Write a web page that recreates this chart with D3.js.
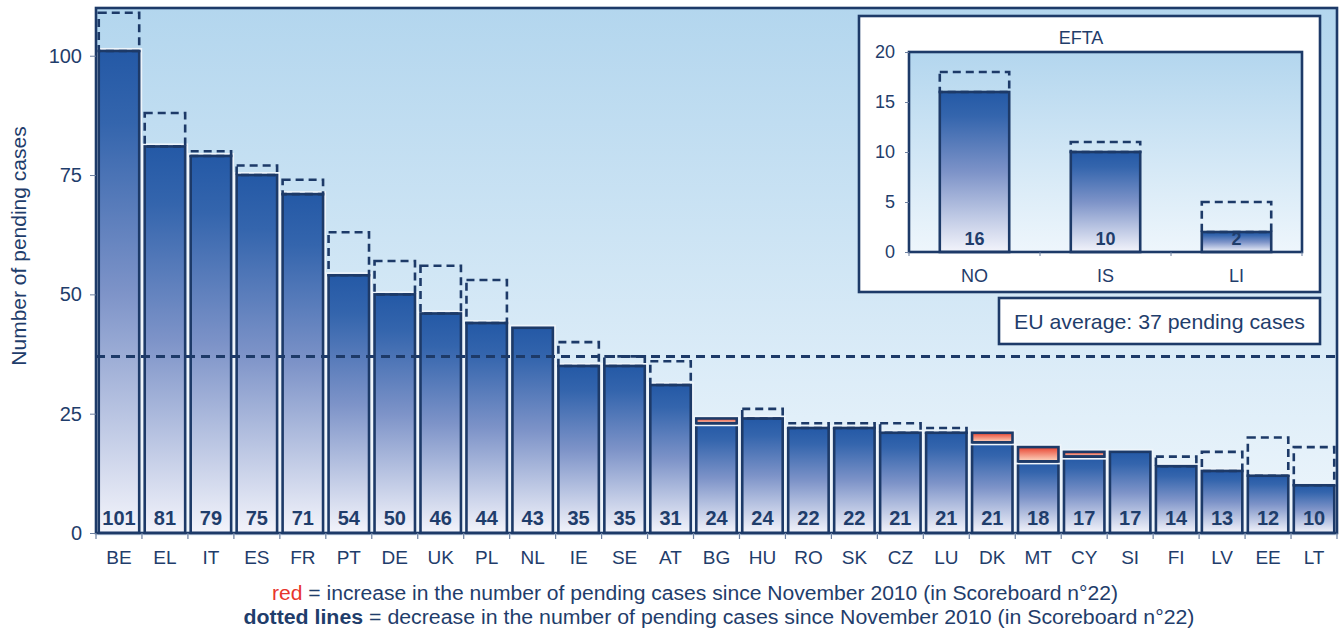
<!DOCTYPE html>
<html><head><meta charset="utf-8">
<script src="https://cdn.jsdelivr.net/npm/d3@7"></script>
<style>body{margin:0;background:#fff}svg{display:block;font-family:"Liberation Sans",Arial,sans-serif}</style>
</head><body><svg id="c" width="1339" height="631"></svg>
<script>
const categories = ["BE","EL","IT","ES","FR","PT","DE","UK","PL","NL","IE","SE","AT","BG","HU","RO","SK","CZ","LU","DK","MT","CY","SI","FI","LV","EE","LT"];
const current    = [101,81,79,75,71,54,50,46,44,43,35,35,31,24,24,22,22,21,21,21,18,17,17,14,13,12,10];
const previous   = [109,88,80,77,74,63,57,56,53,43,40,37,36,23,26,23,23,23,22,19,15,16,17,16,17,20,18];
const yTicks = [0,25,50,75,100];
const euAverage = 37;
const eftaCategories = ["NO","IS","LI"];
const eftaCurrent = [16,10,2];
const eftaPrevious = [18,11,5];
const eftaTicks = [0,5,10,15,20];

const NAVY = "#1d3a68", TEXT = "#1f3d6b", FONT = "Liberation Sans, Arial, sans-serif";
const svg = d3.select("#c");
const defs = svg.append("defs");
function lin(id, stops){
  const g = defs.append("linearGradient").attr("id",id).attr("x1",0).attr("y1",0).attr("x2",0).attr("y2",1);
  stops.forEach(s=>g.append("stop").attr("offset",s[0]).attr("stop-color",s[1]));
}
lin("bg",[[0,"#b3d6ee"],[1,"#eef6fc"]]);
lin("bar",[[0,"#2459a6"],[0.15,"#3465ad"],[0.5,"#7d93c8"],[1,"#f3f4fb"]]);
lin("red",[[0,"#e8432f"],[1,"#fdd9c4"]]);

const L=96,R=1337,T=8,B=533;
const x = d3.scaleBand().domain(categories).range([L,R]).paddingInner(0.12).paddingOuter(0.06);
const y = d3.scaleLinear().domain([0,110]).range([B,T]);

svg.append("rect").attr("x",L).attr("y",T).attr("width",R-L).attr("height",B-T).attr("fill","url(#bg)");

function barRect(sel, bx, by, bw, bh, fill, dash){
  if(!dash) sel.append("rect").attr("x",bx).attr("y",by).attr("width",bw).attr("height",bh)
    .attr("fill","none").attr("stroke","#eef5fb").attr("stroke-width",6);
  const r = sel.append("rect").attr("x",bx).attr("y",by).attr("width",bw).attr("height",bh)
    .attr("fill",fill).attr("stroke",NAVY).attr("stroke-width",2.6);
  if(dash) r.attr("stroke-dasharray","8,5");
}

const data = categories.map((c,i)=>({c,v:current[i],p:previous[i]}));
const g = svg.append("g");
data.forEach(d=>{
  const bx = x(d.c), bw = x.bandwidth();
  const base = Math.min(d.v,d.p);
  barRect(g, bx, y(base), bw, y(0)-y(base), "url(#bar)");
  if(d.v>d.p){
    barRect(g, bx, y(d.v), bw, y(d.p)-y(d.v), "url(#red)");
    g.append("line").attr("x1",bx).attr("x2",bx+bw).attr("y1",y(d.p)).attr("y2",y(d.p)).attr("stroke",NAVY).attr("stroke-width",2.6);
  } else if(d.p>d.v){
    barRect(g, bx, y(d.p), bw, y(d.v)-y(d.p), "none", true);
  }
});

// average line (on top of bars)
svg.append("line").attr("x1",L).attr("x2",R).attr("y1",y(euAverage)).attr("y2",y(euAverage))
  .attr("stroke",NAVY).attr("stroke-width",3).attr("stroke-dasharray","9,6");

const lab = svg.append("g");
data.forEach(d=>{
  lab.append("text").attr("x",x(d.c)+x.bandwidth()/2).attr("y",B-8).attr("text-anchor","middle")
    .attr("font-weight","bold").attr("font-size",20).attr("fill",TEXT).text(d.v);
});

// frame
svg.append("rect").attr("x",L).attr("y",T).attr("width",R-L).attr("height",B-T)
  .attr("fill","none").attr("stroke",NAVY).attr("stroke-width",2.6);

// y axis
const ya = svg.append("g").attr("transform",`translate(${L},0)`)
  .call(d3.axisLeft(y).tickValues(yTicks).tickSize(6).tickPadding(8));
ya.select(".domain").remove();
ya.selectAll("line").attr("stroke","#6b7fa0");
ya.selectAll("text").attr("font-size",20).attr("fill",TEXT).attr("font-family",FONT);

// x axis ticks at boundaries
const step = x.step();
const bounds = categories.map(c=>x(c)-x.paddingInner()*step/2).concat([R]);
svg.append("g").selectAll("line").data(bounds).join("line")
  .attr("x1",d=>d).attr("x2",d=>d).attr("y1",B).attr("y2",B+6).attr("stroke","#6b7fa0").attr("stroke-width",1.2);
svg.append("g").selectAll("text").data(categories).join("text")
  .attr("x",d=>x(d)+x.bandwidth()/2).attr("y",B+31).attr("text-anchor","middle")
  .attr("font-size",19).attr("fill",TEXT).text(d=>d);

svg.append("text").attr("transform","translate(26,246) rotate(-90)").attr("text-anchor","middle")
  .attr("font-size",21).attr("fill",TEXT).text("Number of pending cases");

// EFTA inset
svg.append("rect").attr("x",859).attr("y",16).attr("width",461).attr("height",276)
  .attr("fill","#fff").attr("stroke",NAVY).attr("stroke-width",2.6);
svg.append("text").attr("x",1081).attr("y",44).attr("text-anchor","middle").attr("font-size",18).attr("fill",TEXT).text("EFTA");
const iL=909,iR=1302,iT=52,iB=252;
const ix = d3.scaleBand().domain(eftaCategories).range([iL,iR]).paddingInner(0.47).paddingOuter(0.235);
const iy = d3.scaleLinear().domain([0,20]).range([iB,iT]);
svg.append("rect").attr("x",iL).attr("y",iT).attr("width",iR-iL).attr("height",iB-iT).attr("fill","url(#bg)");
eftaCategories.forEach((c,i)=>{
  const v=eftaCurrent[i], p=eftaPrevious[i], bx=ix(c), bw=ix.bandwidth();
  svg.append("rect").attr("x",bx).attr("y",iy(v)).attr("width",bw).attr("height",iB-iy(v))
    .attr("fill","url(#bar)").attr("stroke",NAVY).attr("stroke-width",2.6);
  if(p>v) svg.append("rect").attr("x",bx).attr("y",iy(p)).attr("width",bw).attr("height",iy(v)-iy(p))
    .attr("fill","none").attr("stroke",NAVY).attr("stroke-width",2.6).attr("stroke-dasharray","8,5");
  svg.append("text").attr("x",bx+bw/2).attr("y",iB-7).attr("text-anchor","middle")
    .attr("font-weight","bold").attr("font-size",18).attr("fill",TEXT).text(v);
  svg.append("text").attr("x",bx+bw/2).attr("y",iB+30).attr("text-anchor","middle")
    .attr("font-size",18).attr("fill",TEXT).text(c);
});
svg.append("rect").attr("x",iL).attr("y",iT).attr("width",iR-iL).attr("height",iB-iT)
  .attr("fill","none").attr("stroke",NAVY).attr("stroke-width",2.6);
const iya = svg.append("g").attr("transform",`translate(${iL},0)`)
  .call(d3.axisLeft(iy).tickValues(eftaTicks).tickSize(4).tickPadding(10));
iya.select(".domain").remove();
iya.selectAll("line").attr("stroke","#6b7fa0");
iya.selectAll("text").attr("font-size",18).attr("fill",TEXT).attr("font-family",FONT);
const istep = ix.step();
const ib = eftaCategories.map(c=>ix(c)-ix.paddingInner()*istep/2).concat([iR]);
svg.append("g").selectAll("line").data(ib).join("line")
  .attr("x1",d=>d).attr("x2",d=>d).attr("y1",iB).attr("y2",iB+4).attr("stroke","#6b7fa0");

// EU average box
svg.append("rect").attr("x",999).attr("y",298).attr("width",321).attr("height",46)
  .attr("fill","#fff").attr("stroke",NAVY).attr("stroke-width",2.6);
svg.append("text").attr("x",1159.5).attr("y",329).attr("text-anchor","middle").attr("font-size",21).attr("fill",TEXT)
  .attr("textLength",291).attr("lengthAdjust","spacingAndGlyphs")
  .text("EU average: " + euAverage + " pending cases");

// footer
const f1 = svg.append("text").attr("x",695).attr("y",600).attr("text-anchor","middle").attr("font-size",20).attr("fill",TEXT)
  .attr("textLength",846).attr("lengthAdjust","spacingAndGlyphs");
f1.append("tspan").attr("fill","#e8352b").text("red");
f1.append("tspan").text(" = increase in the number of pending cases since November 2010 (in Scoreboard n°22)");
const f2 = svg.append("text").attr("x",719).attr("y",624).attr("text-anchor","middle").attr("font-size",20).attr("fill",TEXT)
  .attr("textLength",951).attr("lengthAdjust","spacingAndGlyphs");
f2.append("tspan").attr("font-weight","bold").text("dotted lines");
f2.append("tspan").text(" = decrease in the number of pending cases since November 2010 (in Scoreboard n°22)");
</script></body></html>
